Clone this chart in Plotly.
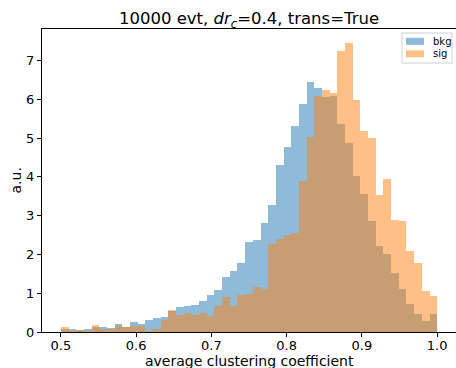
import plotly.graph_objects as go

# ---- data (density-normalised histograms, 49 equal bins from 0.5 to 1.0) ----
bin_lo = 0.5
bin_hi = 1.0
n_bins = 49

bkg = [0.09, 0.07, 0.04, 0.07, 0.12, 0.13, 0.11, 0.20, 0.14, 0.27,
       0.20, 0.31, 0.35, 0.38, 0.53, 0.65, 0.68, 0.69, 0.81, 0.96,
       1.08, 1.41, 1.58, 1.77, 2.31, 2.36, 2.80, 3.27, 4.30, 4.76,
       5.31, 5.88, 6.44, 6.28, 6.07, 6.08, 5.35, 4.88, 4.02, 3.55,
       2.86, 2.22, 2.01, 1.51, 1.10, 0.72, 0.46, 0.28, 0.46]

sig = [0.14, 0.03, 0.05, 0.03, 0.17, 0.09, 0.09, 0.16, 0.14, 0.16,
       0.15, 0.02, 0.09, 0.30, 0.57, 0.45, 0.50, 0.45, 0.50, 0.41,
       0.68, 0.91, 0.66, 0.95, 0.99, 1.15, 1.11, 2.26, 2.39, 2.50,
       2.54, 3.89, 5.02, 6.08, 6.24, 6.17, 7.25, 7.44, 5.97, 5.17,
       5.00, 3.53, 3.94, 2.89, 2.87, 2.08, 1.77, 1.05, 0.93]

x_tick_vals = [0.5, 0.6, 0.7, 0.8, 0.9, 1.0]
x_tick_text = ["0.5", "0.6", "0.7", "0.8", "0.9", "1.0"]
y_tick_vals = [0, 1, 2, 3, 4, 5, 6, 7]

series_names = ["bkg", "sig"]
series_colors = ["rgba(31,119,180,0.5)", "rgba(255,127,14,0.5)"]
title_text = "10000 evt, <i>dr</i><sub><i>c</i></sub>=0.4, trans=True"
x_label = "average clustering coefficient"
y_label = "a.u."

# ---- derived bin geometry ----
bw = (bin_hi - bin_lo) / n_bins
centers = [bin_lo + (i + 0.5) * bw for i in range(n_bins)]

FONT = "DejaVu Sans"
L, R, T, B = 42, 0, 29, 36
W, H = 456, 368
PW, PH = W - L - R, H - T - B


def px(xp):
    return (xp - L) / PW


def py(yp):
    return (H - B - yp) / PH


fig = go.Figure()
for name, vals, col in zip(series_names, [bkg, sig], series_colors):
    fig.add_trace(go.Bar(x=centers, y=vals, width=bw, name=name, showlegend=False,
                         marker=dict(color=col, line=dict(width=0))))

axis_common = dict(showgrid=False, zeroline=False, showline=True, mirror=True,
                   linecolor="#000000", linewidth=1, ticks="outside", ticklen=4,
                   tickwidth=1, tickcolor="#000000",
                   tickfont=dict(family=FONT, size=13, color="#000000"))

# legend drawn as a small box in paper coordinates (matplotlib style)
shapes = [dict(type="rect", xref="paper", yref="paper",
               x0=px(402), x1=px(452), y0=py(63), y1=py(33),
               line=dict(color="#d0d0d0", width=1), fillcolor="rgba(255,255,255,0.8)",
               layer="above")]
annotations = []
for i, (name, col) in enumerate(zip(series_names, series_colors)):
    yc = 41.3 + i * 12.5
    shapes.append(dict(type="rect", xref="paper", yref="paper",
                       x0=px(406), x1=px(424), y0=py(yc + 3.5), y1=py(yc - 3.5),
                       line=dict(width=0), fillcolor=col, layer="above"))
    annotations.append(dict(text=name, xref="paper", yref="paper", x=px(431), y=py(yc),
                            xanchor="left", yanchor="middle", showarrow=False,
                            font=dict(family=FONT, size=10, color="#000000")))

annotations += [
    dict(text=x_label, xref="paper", yref="paper", x=0.5, y=py(361),
         xanchor="center", yanchor="middle", showarrow=False,
         font=dict(family=FONT, size=14, color="#000000")),
    dict(text=y_label, xref="paper", yref="paper", x=px(15), y=0.5,
         xanchor="center", yanchor="middle", textangle=-90, showarrow=False,
         font=dict(family=FONT, size=14, color="#000000")),
]

fig.update_layout(
    width=W, height=H,
    margin=dict(l=L, r=R, t=T, b=B),
    paper_bgcolor="white", plot_bgcolor="white",
    barmode="overlay", bargap=0,
    font=dict(family=FONT, color="#000000"),
    title=dict(text=title_text, x=0.5, xref="paper", xanchor="center",
               y=1 - 18.5 / H, yref="container", yanchor="middle",
               font=dict(family=FONT, size=16.5, color="#000000")),
    xaxis=dict(range=[0.475, 1.025], tickvals=x_tick_vals, ticktext=x_tick_text,
               ticklabelstandoff=-3, **axis_common),
    yaxis=dict(range=[0, 7.81], tickvals=y_tick_vals, **axis_common),
    showlegend=False,
    shapes=shapes,
    annotations=annotations,
)

fig.write_html("out.html")
